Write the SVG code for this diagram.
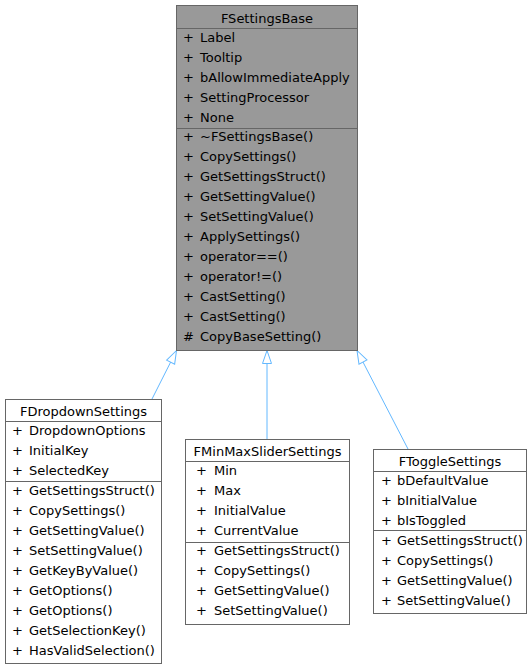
<svg xmlns="http://www.w3.org/2000/svg" width="532" height="669" viewBox="0 0 532 669">
<style>
.box{fill:#ffffff;stroke:#666666;stroke-width:1}
.base{fill:#999999;stroke:#666666;stroke-width:1}
.sep{stroke:#666666;stroke-width:1;fill:none}
text{font-family:"DejaVu Sans","Liberation Sans",sans-serif;font-size:13px;fill:#000000}
.t{text-anchor:middle}
.edge{stroke:#63b8ff;stroke-width:1;fill:none;marker-end:url(#inh)}
</style>
<defs>
<marker id="inh" viewBox="0 0 14 10" refX="13.5" refY="5" markerWidth="14" markerHeight="10" markerUnits="userSpaceOnUse" orient="auto" overflow="visible">
<path d="M0.5,0.5 L13.5,5 L0.5,9.5 Z" fill="#ffffff" stroke="#63b8ff" stroke-width="1"/>
</marker>
</defs>
<rect width="532" height="669" fill="#ffffff"/>
<g id="connectors">
<path class="edge" d="M152,399 L176.5,350.5"/>
<path class="edge" d="M267,439 L267,350.5"/>
<path class="edge" d="M408,449 L357,350.5"/>
</g>
<g id="FSettingsBase">
<rect class="base" x="176.5" y="5.5" width="181" height="345"/>
<line class="sep" x1="176.5" y1="28.5" x2="357.5" y2="28.5"/>
<line class="sep" x1="176.5" y1="128.5" x2="357.5" y2="128.5"/>
<text class="t" x="267" y="23">FSettingsBase</text>
<text x="183" y="42">+</text><text x="200" y="42">Label</text>
<text x="183" y="62">+</text><text x="200" y="62">Tooltip</text>
<text x="183" y="82">+</text><text x="200" y="82">bAllowImmediateApply</text>
<text x="183" y="102">+</text><text x="200" y="102">SettingProcessor</text>
<text x="183" y="122">+</text><text x="200" y="122">None</text>
<text x="183" y="141">+</text><text x="200" y="141">~FSettingsBase()</text>
<text x="183" y="161">+</text><text x="200" y="161">CopySettings()</text>
<text x="183" y="181">+</text><text x="200" y="181">GetSettingsStruct()</text>
<text x="183" y="201">+</text><text x="200" y="201">GetSettingValue()</text>
<text x="183" y="221">+</text><text x="200" y="221">SetSettingValue()</text>
<text x="183" y="241">+</text><text x="200" y="241">ApplySettings()</text>
<text x="183" y="261">+</text><text x="200" y="261">operator==()</text>
<text x="183" y="281">+</text><text x="200" y="281">operator!=()</text>
<text x="183" y="301">+</text><text x="200" y="301">CastSetting()</text>
<text x="183" y="321">+</text><text x="200" y="321">CastSetting()</text>
<text x="183" y="341">#</text><text x="200" y="341">CopyBaseSetting()</text>
</g>
<g id="FDropdownSettings">
<rect class="box" x="5.5" y="399.5" width="156" height="264"/>
<line class="sep" x1="5.5" y1="421.5" x2="161.5" y2="421.5"/>
<line class="sep" x1="5.5" y1="481.5" x2="161.5" y2="481.5"/>
<text class="t" x="83.5" y="415.5">FDropdownSettings</text>
<text x="12" y="435">+</text><text x="29" y="435">DropdownOptions</text>
<text x="12" y="455">+</text><text x="29" y="455">InitialKey</text>
<text x="12" y="475">+</text><text x="29" y="475">SelectedKey</text>
<text x="12" y="495">+</text><text x="29" y="495">GetSettingsStruct()</text>
<text x="12" y="515">+</text><text x="29" y="515">CopySettings()</text>
<text x="12" y="535">+</text><text x="29" y="535">GetSettingValue()</text>
<text x="12" y="555">+</text><text x="29" y="555">SetSettingValue()</text>
<text x="12" y="575">+</text><text x="29" y="575">GetKeyByValue()</text>
<text x="12" y="595">+</text><text x="29" y="595">GetOptions()</text>
<text x="12" y="615">+</text><text x="29" y="615">GetOptions()</text>
<text x="12" y="635">+</text><text x="29" y="635">GetSelectionKey()</text>
<text x="12" y="655">+</text><text x="29" y="655">HasValidSelection()</text>
</g>
<g id="FMinMaxSliderSettings">
<rect class="box" x="185.5" y="439.5" width="164" height="185"/>
<line class="sep" x1="185.5" y1="461.5" x2="349.5" y2="461.5"/>
<line class="sep" x1="185.5" y1="542.5" x2="349.5" y2="542.5"/>
<text class="t" x="267.5" y="455.5">FMinMaxSliderSettings</text>
<text x="196" y="475">+</text><text x="214" y="475">Min</text>
<text x="196" y="495">+</text><text x="214" y="495">Max</text>
<text x="196" y="515">+</text><text x="214" y="515">InitialValue</text>
<text x="196" y="535">+</text><text x="214" y="535">CurrentValue</text>
<text x="196" y="555">+</text><text x="214" y="555">GetSettingsStruct()</text>
<text x="196" y="575">+</text><text x="214" y="575">CopySettings()</text>
<text x="196" y="595">+</text><text x="214" y="595">GetSettingValue()</text>
<text x="196" y="615">+</text><text x="214" y="615">SetSettingValue()</text>
</g>
<g id="FToggleSettings">
<rect class="box" x="373.5" y="449.5" width="153" height="164"/>
<line class="sep" x1="373.5" y1="471.5" x2="526.5" y2="471.5"/>
<line class="sep" x1="373.5" y1="530.5" x2="526.5" y2="530.5"/>
<text class="t" x="450" y="465.5">FToggleSettings</text>
<text x="381" y="485">+</text><text x="397" y="485">bDefaultValue</text>
<text x="381" y="505">+</text><text x="397" y="505">bInitialValue</text>
<text x="381" y="525">+</text><text x="397" y="525">bIsToggled</text>
<text x="381" y="545">+</text><text x="397" y="545">GetSettingsStruct()</text>
<text x="381" y="565">+</text><text x="397" y="565">CopySettings()</text>
<text x="381" y="585">+</text><text x="397" y="585">GetSettingValue()</text>
<text x="381" y="605">+</text><text x="397" y="605">SetSettingValue()</text>
</g>
</svg>
